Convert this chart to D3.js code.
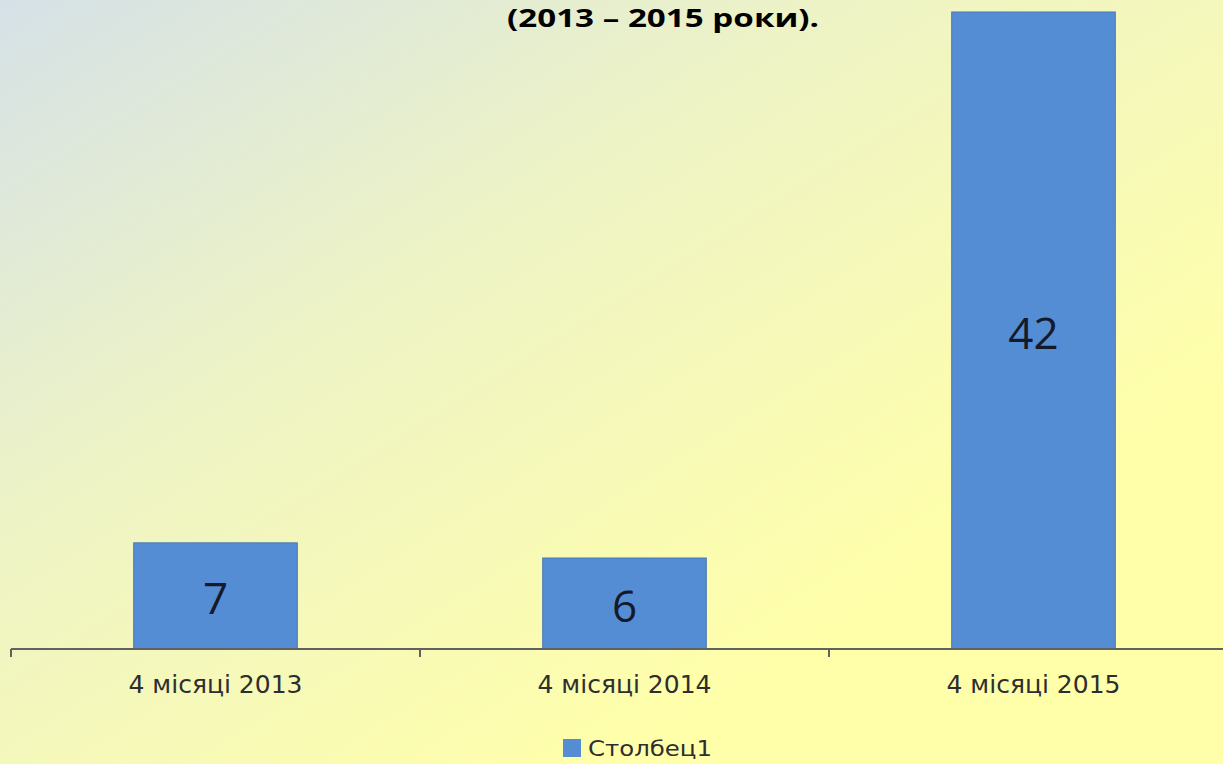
<!DOCTYPE html>
<html>
<head>
<meta charset="utf-8">
<script src="https://cdn.jsdelivr.net/npm/d3@7"></script>
<style>
  html, body { margin: 0; padding: 0; overflow: hidden; }
  #canvas { width: 1223px; height: 764px; }
</style>
</head>
<body>
<div id="canvas"></div>
<script>
// chart data
const categories = ["4 місяці 2013", "4 місяці 2014", "4 місяці 2015"];
const values = [7, 6, 42];
const seriesName = "Столбец1";
const titleText = "(2013 – 2015 роки).";

const width = 1223, height = 764;

const svg = d3.select("#canvas").append("svg")
    .attr("width", width).attr("height", height);

// background gradient: grey-blue top left to pale yellow bottom right
const defs = svg.append("defs");
const bg = defs.append("linearGradient")
    .attr("id", "bg")
    .attr("x1", "0%").attr("y1", "0%")
    .attr("x2", "75%").attr("y2", "75%");
bg.append("stop").attr("offset", "0%").attr("stop-color", "#d5e1e7");
bg.append("stop").attr("offset", "45%").attr("stop-color", "#edf3c6");
bg.append("stop").attr("offset", "100%").attr("stop-color", "#ffffaa");
svg.append("rect").attr("width", width).attr("height", height).attr("fill", "url(#bg)");

const axisY = 649;
// band step is 409 px, bars ~164 px wide
const x = d3.scaleBand()
    .domain(categories)
    .range([11, 11 + 409 * categories.length])
    .paddingInner(0.6)
    .paddingOuter(0.3);
const y = d3.scaleLinear().domain([0, 42]).range([axisY, 12]);

// bars
svg.selectAll("rect.bar")
    .data(values)
    .join("rect")
    .attr("class", "bar")
    .attr("x", (d, i) => x(categories[i]))
    .attr("y", d => y(d))
    .attr("width", x.bandwidth())
    .attr("height", d => axisY - y(d))
    .attr("fill", "#558dd5")
    .attr("stroke", "#4a79b4")
    .attr("stroke-width", 1);

// value labels
svg.selectAll("text.val")
    .data(values)
    .join("text")
    .attr("class", "val")
    .attr("x", (d, i) => x(categories[i]) + x.bandwidth() / 2)
    .attr("y", d => (y(d) + axisY) / 2 + 1)
    .attr("text-anchor", "middle")
    .attr("dominant-baseline", "central")
    .attr("font-family", "'Open Sans', 'DejaVu Sans', sans-serif")
    .attr("font-size", 44)
    .attr("fill", "#141a2a")
    .text(d => d);

// x axis: line and ticks between categories
const step = x.step();
const tickXs = d3.range(categories.length + 1).map(i => 11 + i * step);
svg.append("line")
    .attr("x1", 11).attr("x2", width)
    .attr("y1", axisY).attr("y2", axisY)
    .attr("stroke", "#616161").attr("stroke-width", 2);
svg.selectAll("line.tick")
    .data(tickXs)
    .join("line")
    .attr("class", "tick")
    .attr("x1", d => d).attr("x2", d => d)
    .attr("y1", axisY).attr("y2", axisY + 8)
    .attr("stroke", "#616161").attr("stroke-width", 2);

svg.selectAll("text.cat")
    .data(categories)
    .join("text")
    .attr("class", "cat")
    .attr("x", d => x(d) + x.bandwidth() / 2)
    .attr("y", 693)
    .attr("text-anchor", "middle")
    .attr("font-family", "'DejaVu Sans', sans-serif")
    .attr("font-size", 24)
    .attr("textLength", 174)
    .attr("lengthAdjust", "spacingAndGlyphs")
    .attr("fill", "#2e2e2e")
    .text(d => d);

// title (only its second line is visible)
svg.append("text")
    .attr("x", 663)
    .attr("y", 27)
    .attr("text-anchor", "middle")
    .attr("font-family", "'Open Sans', 'Liberation Sans', sans-serif")
    .attr("font-weight", "bold")
    .attr("font-size", 25)
    .attr("textLength", 312)
    .attr("lengthAdjust", "spacingAndGlyphs")
    .attr("fill", "#000")
    .text(titleText);

// legend
const legend = svg.append("g").attr("transform", "translate(563,739)");
legend.append("rect")
    .attr("width", 18).attr("height", 18)
    .attr("fill", "#558dd5");
legend.append("text")
    .attr("x", 25).attr("y", 17)
    .attr("font-family", "'DejaVu Sans', sans-serif")
    .attr("font-size", 22)
    .attr("textLength", 124)
    .attr("lengthAdjust", "spacingAndGlyphs")
    .attr("fill", "#2e2e2e")
    .text(seriesName);
</script>
</body>
</html>
